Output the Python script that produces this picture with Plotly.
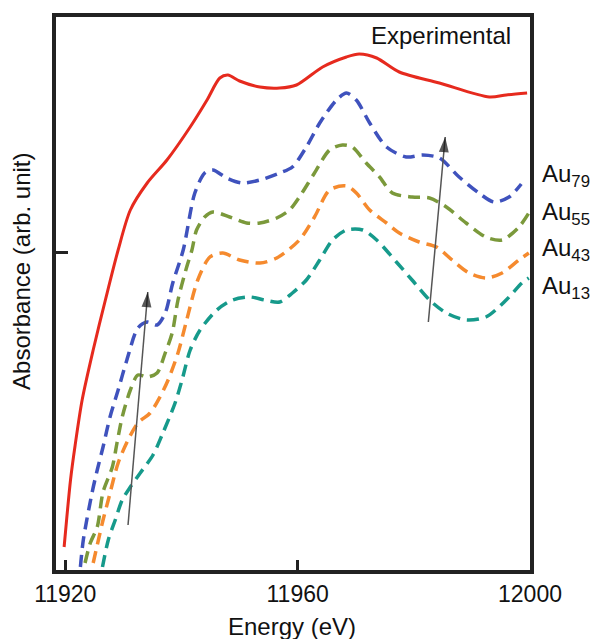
import plotly.graph_objects as go

# --- Au L3-edge XANES: experimental spectrum and simulated Au clusters ---
exp_energy = [11919.8, 11920.9, 11921.7, 11922.9, 11924.8, 11926.9, 11929.1, 11931.2,
              11934.1, 11937.5, 11941.5, 11944.4, 11946.6, 11948.0, 11950.0, 11953.5,
              11956.9, 11959.8, 11964.3, 11968.4, 11970.6, 11973.6, 11977.5, 11984.4,
              11993.0, 11995.9, 11999.5]
exp_abs = [0.25, 0.92, 1.27, 1.72, 2.22, 2.72, 3.22, 3.62,
           3.89, 4.12, 4.45, 4.72, 4.94, 4.97, 4.91, 4.85,
           4.84, 4.87, 5.05, 5.15, 5.18, 5.14, 5.00, 4.89,
           4.75, 4.77, 4.79]

au79_energy = [11922.6, 11923.1, 11924.6, 11925.5, 11926.5, 11927.7, 11929.1, 11930.6,
               11932.5, 11934.1, 11935.8, 11937.2, 11938.5, 11940.3, 11942.3, 11944.0,
               11945.4, 11947.8, 11950.4, 11953.5, 11956.9, 11959.1, 11961.5, 11963.8,
               11966.7, 11968.4, 11970.1, 11972.4, 11975.3, 11978.7, 11981.5, 11984.4,
               11987.8, 11991.2, 11993.8, 11996.4, 11998.5]
au79_abs = [0.05, 0.32, 0.79, 1.02, 1.25, 1.55, 1.82, 2.12,
            2.44, 2.50, 2.47, 2.59, 2.89, 3.22, 3.79, 3.99,
            4.02, 3.94, 3.89, 3.92, 3.99, 4.05, 4.25, 4.49,
            4.72, 4.79, 4.72, 4.49, 4.25, 4.15, 4.17, 4.14,
            3.95, 3.79, 3.70, 3.75, 3.88]

au55_energy = [11923.4, 11924.3, 11925.5, 11926.5, 11928.1, 11928.9, 11929.8, 11931.2,
               11932.5, 11934.1, 11935.8, 11937.2, 11938.4, 11939.4, 11940.9, 11941.8,
               11942.6, 11944.0, 11945.4, 11948.3, 11951.2, 11953.5, 11956.4, 11958.6,
               11960.3, 11962.9, 11965.5, 11967.7, 11969.4, 11971.8, 11974.1, 11976.3,
               11979.7, 11982.7, 11985.6, 11989.0, 11992.4, 11995.2, 11998.1, 11999.8]
au55_abs = [0.09, 0.29, 0.45, 0.80, 1.05, 1.29, 1.55, 1.82,
            1.97, 1.95, 1.99, 2.19, 2.39, 2.72, 3.05, 3.22,
            3.42, 3.55, 3.60, 3.55, 3.49, 3.49, 3.54, 3.62,
            3.75, 3.99, 4.22, 4.27, 4.25, 4.09, 3.95, 3.79,
            3.75, 3.74, 3.65, 3.49, 3.35, 3.32, 3.45, 3.59]

au43_energy = [11924.8, 11925.7, 11926.5, 11927.4, 11929.1, 11930.8, 11932.5, 11934.6,
               11936.3, 11937.7, 11939.4, 11940.9, 11942.8, 11944.9, 11947.1, 11950.0,
               11953.5, 11956.4, 11960.3, 11962.9, 11965.5, 11968.4, 11970.1, 11972.4,
               11975.3, 11977.5, 11980.9, 11983.9, 11986.6, 11989.5, 11992.4, 11995.2,
               11998.1, 11999.8]
au43_abs = [0.09, 0.32, 0.52, 0.72, 1.09, 1.32, 1.49, 1.59,
            1.75, 1.92, 2.19, 2.52, 2.92, 3.15, 3.19, 3.12,
            3.09, 3.14, 3.32, 3.55, 3.82, 3.86, 3.79, 3.62,
            3.49, 3.39, 3.30, 3.25, 3.12, 2.99, 2.94, 2.99,
            3.12, 3.19]

au13_energy = [11926.4, 11927.4, 11928.6, 11929.8, 11931.2, 11932.9, 11935.1, 11936.8,
               11938.9, 11940.1, 11941.5, 11943.2, 11946.1, 11948.8, 11951.8, 11954.3,
               11956.9, 11959.1, 11961.5, 11963.8, 11966.0, 11968.4, 11971.2, 11973.6,
               11977.0, 11979.7, 11982.7, 11985.6, 11989.0, 11992.4, 11995.9, 11998.6,
               11999.8]
au13_abs = [0.05, 0.32, 0.52, 0.72, 0.85, 0.99, 1.17, 1.39,
            1.69, 1.92, 2.22, 2.42, 2.62, 2.72, 2.75, 2.72,
            2.70, 2.79, 2.92, 3.12, 3.32, 3.42, 3.42, 3.32,
            3.10, 2.92, 2.72, 2.59, 2.52, 2.55, 2.72, 2.89,
            2.94]

x_ticks = [11920, 11960, 12000]
y_ticks = [3.2]

# trend arrows: (tail energy, tail abs) -> (head energy, head abs)
trend_arrows = [
    ((11930.8, 0.47), (11934.2, 2.80)),
    ((11982.5, 2.50), (11985.4, 4.35)),
]

series = [
    ("Au<sub>79</sub>", au79_energy, au79_abs, "#3f52bd"),
    ("Au<sub>55</sub>", au55_energy, au55_abs, "#7b993b"),
    ("Au<sub>43</sub>", au43_energy, au43_abs, "#f58a2e"),
    ("Au<sub>13</sub>", au13_energy, au13_abs, "#169a8b"),
]
label_y = [0.7125, 0.644, 0.579, 0.51]

FONT = "Liberation Sans, Arial, sans-serif"
TXT = "#111"

fig = go.Figure()
fig.add_trace(go.Scatter(
    x=exp_energy, y=exp_abs, mode="lines",
    line=dict(color="#e62a1e", width=3, shape="spline", smoothing=0.8),
    showlegend=False, hoverinfo="skip"))

for name, xs, ys, col in series:
    fig.add_trace(go.Scatter(
        x=xs, y=ys, mode="lines", name=name,
        line=dict(color=col, width=3.5, dash="12px,7px", shape="spline", smoothing=0.8),
        showlegend=False, hoverinfo="skip"))

# arrows: thin grey shaft with a dark arrow marker oriented along the shaft
for (tail, head) in trend_arrows:
    fig.add_trace(go.Scatter(
        x=[tail[0], head[0]], y=[tail[1], head[1]], mode="lines",
        line=dict(color="#555", width=1.5),
        showlegend=False, hoverinfo="skip"))
    fig.add_trace(go.Scatter(
        x=[tail[0], head[0]], y=[tail[1], head[1]], mode="markers",
        marker=dict(symbol="arrow", size=[0, 16], angleref="previous",
                    color="#111", line=dict(width=0)),
        showlegend=False, hoverinfo="skip"))

annotations = []
for (name, _, _, _), ly in zip(series, label_y):
    annotations.append(dict(
        x=1.021, y=ly, xref="paper", yref="paper", text=name,
        showarrow=False, xanchor="left", yanchor="middle",
        font=dict(family=FONT, size=24, color=TXT)))

annotations.append(dict(
    x=0.812, y=0.967, xref="paper", yref="paper", text="Experimental",
    showarrow=False, xanchor="center", yanchor="middle",
    font=dict(family=FONT, size=24, color=TXT)))
annotations.append(dict(
    x=0.497, y=-0.103, xref="paper", yref="paper", text="Energy (eV)",
    showarrow=False, xanchor="center", yanchor="middle",
    font=dict(family=FONT, size=24, color=TXT)))
annotations.append(dict(
    x=-0.0717, y=0.539, xref="paper", yref="paper", text="Absorbance (arb. unit)",
    showarrow=False, xanchor="center", yanchor="middle", textangle=-90,
    font=dict(family=FONT, size=24, color=TXT)))

fig.update_layout(
    width=591, height=639,
    margin=dict(l=56, r=61, t=17, b=69),
    paper_bgcolor="white", plot_bgcolor="white",
    annotations=annotations,
    xaxis=dict(
        range=[11918.4, 12000], tickvals=x_ticks, ticktext=[str(v) for v in x_ticks],
        ticks="inside", ticklen=10, tickwidth=3, tickcolor="#222",
        showline=True, linewidth=4, linecolor="#222", mirror=True,
        showgrid=False, zeroline=False,
        tickfont=dict(family=FONT, size=23, color=TXT)),
    yaxis=dict(
        range=[0.02, 5.55], tickvals=y_ticks, showticklabels=False,
        ticks="inside", ticklen=12, tickwidth=3, tickcolor="#222",
        showline=True, linewidth=4, linecolor="#222", mirror=True,
        showgrid=False, zeroline=False),
)

fig.write_html("out.html")
